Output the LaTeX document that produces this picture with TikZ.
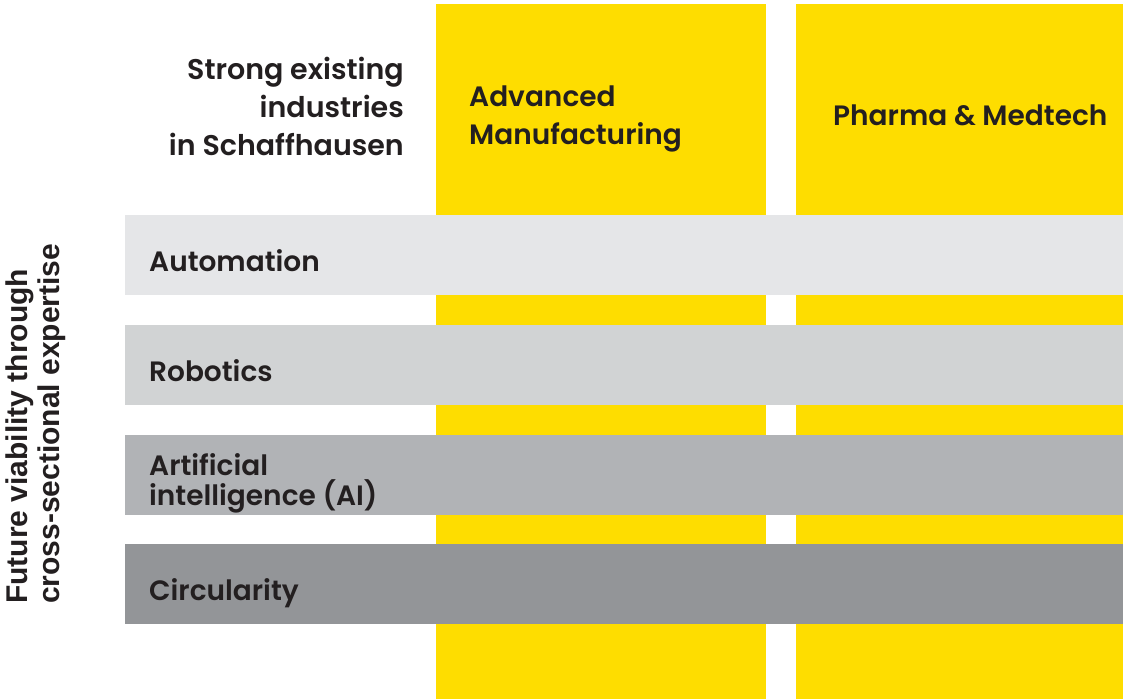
\documentclass[tikz,border=0pt]{standalone}
\usepackage{fontspec}
\setmainfont{Poppins}[BoldFont={Poppins SemiBold}]
\newfontfamily\sidefont{Liberation Sans}[BoldFont={Liberation Sans Bold}]
\usetikzlibrary{positioning}
\definecolor{swyellow}{HTML}{FEDD00}
\definecolor{greyA}{HTML}{E5E6E8}
\definecolor{greyB}{HTML}{D1D3D4}
\definecolor{greyC}{HTML}{B1B3B6}
\definecolor{greyD}{HTML}{939598}
\definecolor{inkdark}{HTML}{231F20}
\tikzset{
	column/.style={fill=swyellow, draw=none, inner sep=0pt, minimum width=330pt, minimum height=695pt, anchor=north west},
	band/.style={draw=none, inner sep=0pt, minimum width=998pt, minimum height=80pt, anchor=north west},
	rowtext/.style={font=\fontsize{28}{30}\selectfont\bfseries, text=inkdark, inner sep=0pt, align=left}
}

\begin{document}
\begin{tikzpicture}[x=1pt,y=-1pt]
	\useasboundingbox (0,0) rectangle (1123,699);
	% industry columns
	\node[column] (manu) at (436,4) {};
	\node[column] (pharma) at (796,4) {};
	% expertise bands
	\node[band, fill=greyA] (auto) at (125,215) {};
	\node[band, fill=greyB] (robo) at (125,325) {};
	\node[band, fill=greyC] (ai) at (125,435) {};
	\node[band, fill=greyD] (circ) at (125,544) {};
	% headings
	\node[rowtext, align=right, anchor=base east, font=\fontsize{28.5}{38}\selectfont\bfseries] (strong) at (404,155)
		{Strong existing\\industries\\in Schaffhausen};
	\node[rowtext, anchor=base west, font=\fontsize{28}{38}\selectfont\bfseries] (manulbl) at (469,144)
		{Advanced\\Manufacturing};
	\node[rowtext, anchor=base west] (pharmalbl) at (833,125) {Pharma \& Medtech};
	% band labels
	\node[rowtext, anchor=base west] (autolbl) at (149,271) {Automation};
	\node[rowtext, anchor=base west] (robolbl) at (149,381) {Robotics};
	\node[rowtext, anchor=base west] (ailbl) at (149,505) {Artificial\\intelligence (AI)};
	\node[rowtext, anchor=base west] (circlbl) at (149,600) {Circularity};
	% side title
	\node[rowtext, rotate=90, anchor=north west, font=\sidefont\fontsize{30}{32}\selectfont\bfseries] (side) at (6,604)
		{Future viability through\\cross-sectional expertise};
\end{tikzpicture}
\end{document}
